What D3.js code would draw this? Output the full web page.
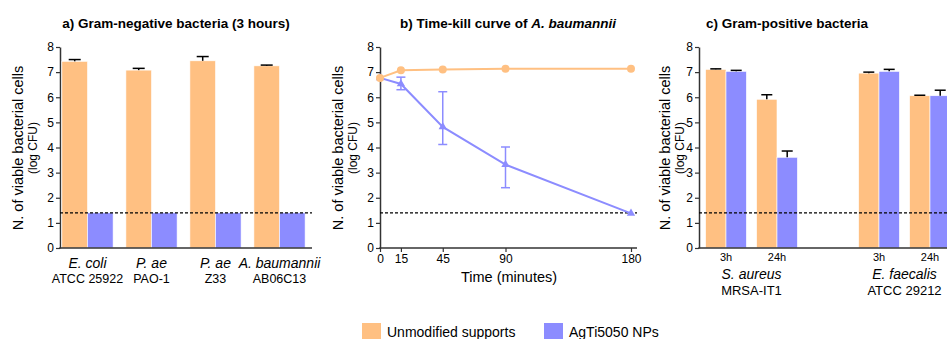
<!DOCTYPE html>
<html>
<head>
<meta charset="utf-8">
<script src="https://cdn.jsdelivr.net/npm/d3@7"></script>
<style>
  body { margin: 0; background: #fff; }
  text { font-family: "Liberation Sans", Arial, sans-serif; fill: #000; }
</style>
</head>
<body>
<svg id="chart" width="947" height="339"></svg>
<script>
// panel a: gram-negative, 3 hours
const gramNegNames = ['E. coli', 'P. ae', 'P. ae', 'A. baumannii'];
const gramNegStrains = ['ATCC 25922', 'PAO-1', 'Z33', 'AB06C13'];
const gramNegUnmod = [7.43, 7.08, 7.45, 7.25];
const gramNegUnmodErr = [0.07, 0.07, 0.17, 0.03];
const gramNegAgTi = [1.4, 1.4, 1.4, 1.4];

// panel b: time-kill curve
const timeMinutes = [0, 15, 45, 90, 180];
const killUnmod = [6.77, 7.07, 7.1, 7.13, 7.13];
const killAgTi = [6.77, 6.53, 4.82, 3.32, 1.38];
const killAgTiLow = [6.77, 6.3, 4.12, 2.4, 1.38];
const killAgTiHigh = [6.77, 6.8, 6.22, 4.02, 1.38];
const timeTicks = [0, 15, 45, 90, 180];

// panel c: gram-positive
const gramPosSlots = ['S. aureus 3h', 'S. aureus 24h', 'gap', 'E. faecalis 3h', 'E. faecalis 24h'];
const gramPosTimes = ['3h', '24h', '', '3h', '24h'];
const gramPosNames = ['S. aureus', 'E. faecalis'];
const gramPosStrains = ['MRSA-IT1', 'ATCC 29212'];
const gramPosUnmod = [7.11, 5.92, null, 6.96, 6.06];
const gramPosUnmodErr = [0.02, 0.18, null, 0.04, 0.02];
const gramPosAgTi = [7.03, 3.61, null, 7.03, 6.06];
const gramPosAgTiErr = [0.04, 0.25, null, 0.08, 0.22];

const yTicks = [0, 1, 2, 3, 4, 5, 6, 7, 8];
const detectionLimit = 1.4;
const legendLabels = ['Unmodified supports', 'AgTi5050 NPs'];

const orange = '#ffc082';
const blue = '#8c8cff';
const axisColor = '#333';

const svg = d3.select('#chart');
const y = d3.scaleLinear().domain([0, 8]).range([248, 47]);

function yAxis(x0, labelX) {
  const g = svg.append('g').attr('transform', 'translate(' + x0 + ',0)')
    .call(d3.axisLeft(y).tickValues(yTicks).tickSize(4).tickSizeOuter(0).tickPadding(2));
  g.select('.domain').attr('stroke', axisColor).attr('stroke-width', 1.5);
  g.selectAll('.tick line').attr('stroke', axisColor).attr('stroke-width', 1.2);
  g.selectAll('.tick text').attr('font-size', 12).attr('fill', '#000')
    .style('font-family', '"Liberation Sans", Arial, sans-serif');
  svg.append('text').attr('transform', 'translate(' + labelX + ',148) rotate(-90)')
    .attr('text-anchor', 'middle').attr('dy', '0.35em').attr('font-size', 14.5)
    .text('N. of viable bacterial cells');
  svg.append('text').attr('transform', 'translate(' + (labelX + 15) + ',148) rotate(-90)')
    .attr('text-anchor', 'middle').attr('dy', '0.35em').attr('font-size', 12)
    .text('(log CFU)');
}

function baseLine(x1, x2) {
  svg.append('line').attr('x1', x1).attr('x2', x2).attr('y1', y(0)).attr('y2', y(0))
    .attr('stroke', axisColor).attr('stroke-width', 1.5);
}

function dashedLimit(x1, x2) {
  svg.append('line').attr('x1', x1).attr('x2', x2)
    .attr('y1', y(detectionLimit)).attr('y2', y(detectionLimit))
    .attr('stroke', '#000').attr('stroke-width', 1.2).attr('stroke-dasharray', '3,2');
}

function upperError(cx, v, e, capW, color) {
  svg.append('line').attr('x1', cx).attr('x2', cx).attr('y1', y(v)).attr('y2', y(v + e))
    .attr('stroke', color).attr('stroke-width', 1.5);
  svg.append('line').attr('x1', cx - capW / 2).attr('x2', cx + capW / 2)
    .attr('y1', y(v + e)).attr('y2', y(v + e)).attr('stroke', color).attr('stroke-width', 1.5);
}

function title(cx, parts) {
  const t = svg.append('text').attr('x', cx).attr('y', 28).attr('text-anchor', 'middle')
    .attr('font-size', 13.5).attr('font-weight', 'bold');
  parts.forEach(function(p) {
    t.append('tspan').attr('font-style', p.italic ? 'italic' : 'normal').text(p.t);
  });
}

// ---------- panel a ----------
const xa = d3.scaleBand().domain(d3.range(gramNegNames.length)).range([55.5, 311.5]).paddingInner(0.2).paddingOuter(0.1);
const bwA = xa.bandwidth() / 2;
yAxis(60, 18);
title(176, [{t: 'a) Gram-negative bacteria (3 hours)'}]);

const ga = svg.append('g');
ga.selectAll('rect.u').data(gramNegUnmod).enter().append('rect')
  .attr('x', (d, i) => xa(i)).attr('y', d => y(d)).attr('width', bwA).attr('height', d => y(0) - y(d))
  .attr('fill', orange).attr('stroke', '#fff').attr('stroke-width', 0.6);
ga.selectAll('rect.b').data(gramNegAgTi).enter().append('rect')
  .attr('x', (d, i) => xa(i) + bwA).attr('y', d => y(d)).attr('width', bwA).attr('height', d => y(0) - y(d))
  .attr('fill', blue).attr('stroke', '#fff').attr('stroke-width', 0.6);
gramNegUnmod.forEach(function(v, i) {
  upperError(xa(i) + bwA / 2, v, gramNegUnmodErr[i], 12, '#000');
});
baseLine(59.25, 312);
dashedLimit(60, 312);
gramNegNames.forEach(function(n, i) {
  const cx = xa(i) + xa.bandwidth() / 2;
  svg.append('text').attr('x', cx).attr('y', 268).attr('text-anchor', 'middle')
    .attr('font-size', 14).attr('font-style', 'italic').text(n);
  svg.append('text').attr('x', cx).attr('y', 283).attr('text-anchor', 'middle')
    .attr('font-size', 12.5).text(gramNegStrains[i]);
});

// ---------- panel b ----------
const xb = d3.scaleLinear().domain([0, 180]).range([380, 631]);
yAxis(380, 338);
title(508, [{t: 'b) Time-kill curve of '}, {t: 'A. baumannii', italic: true}]);
const gxb = svg.append('g').attr('transform', 'translate(0,' + y(0) + ')')
  .call(d3.axisBottom(xb).tickValues(timeTicks).tickSize(4).tickSizeOuter(0).tickPadding(2));
gxb.select('.domain').remove();
gxb.selectAll('.tick line').attr('stroke', axisColor).attr('stroke-width', 1.2);
gxb.selectAll('.tick text').attr('font-size', 12).attr('fill', '#000')
  .style('font-family', '"Liberation Sans", Arial, sans-serif');
baseLine(379.25, 637);
svg.append('text').attr('x', 509).attr('y', 282).attr('text-anchor', 'middle')
  .attr('font-size', 14.5).text('Time (minutes)');
dashedLimit(380, 637);

const line = d3.line().x((d, i) => xb(timeMinutes[i])).y(d => y(d));
svg.append('path').datum(killUnmod).attr('d', line).attr('fill', 'none')
  .attr('stroke', orange).attr('stroke-width', 2);
svg.append('path').datum(killAgTi).attr('d', line).attr('fill', 'none')
  .attr('stroke', blue).attr('stroke-width', 2);
killAgTi.forEach(function(v, i) {
  if (killAgTiHigh[i] - killAgTiLow[i] < 0.01) return;
  const cx = xb(timeMinutes[i]);
  svg.append('line').attr('x1', cx).attr('x2', cx).attr('y1', y(killAgTiLow[i])).attr('y2', y(killAgTiHigh[i]))
    .attr('stroke', blue).attr('stroke-width', 1.5);
  [killAgTiLow[i], killAgTiHigh[i]].forEach(function(e) {
    svg.append('line').attr('x1', cx - 4.5).attr('x2', cx + 4.5).attr('y1', y(e)).attr('y2', y(e))
      .attr('stroke', blue).attr('stroke-width', 1.5);
  });
});
svg.selectAll('path.tri').data(killAgTi).enter().append('path')
  .attr('d', d3.symbol().type(d3.symbolTriangle).size(30))
  .attr('transform', (d, i) => 'translate(' + xb(timeMinutes[i]) + ',' + y(d) + ')')
  .attr('fill', blue);
svg.selectAll('circle.u').data(killUnmod).enter().append('circle')
  .attr('cx', (d, i) => xb(timeMinutes[i])).attr('cy', d => y(d)).attr('r', 4)
  .attr('fill', orange);

// ---------- panel c ----------
const xc = d3.scaleBand().domain(gramPosSlots).range([700.5, 955.5]).paddingInner(0.2).paddingOuter(0.1);
const bwC = xc.bandwidth() / 2;
yAxis(699, 665);
title(787, [{t: 'c) Gram-positive bacteria'}]);
gramPosSlots.forEach(function(s, i) {
  if (gramPosUnmod[i] === null) return;
  const x0 = xc(s);
  svg.append('rect').attr('x', x0).attr('y', y(gramPosUnmod[i])).attr('width', bwC)
    .attr('height', y(0) - y(gramPosUnmod[i])).attr('fill', orange).attr('stroke', '#fff').attr('stroke-width', 0.6);
  svg.append('rect').attr('x', x0 + bwC).attr('y', y(gramPosAgTi[i])).attr('width', bwC)
    .attr('height', y(0) - y(gramPosAgTi[i])).attr('fill', blue).attr('stroke', '#fff').attr('stroke-width', 0.6);
  upperError(x0 + bwC / 2, gramPosUnmod[i], gramPosUnmodErr[i], 11, '#000');
  upperError(x0 + bwC * 1.5, gramPosAgTi[i], gramPosAgTiErr[i], 11, '#000');
  svg.append('text').attr('x', x0 + xc.bandwidth() / 2).attr('y', 261).attr('text-anchor', 'middle')
    .attr('font-size', 11).text(gramPosTimes[i]);
});
baseLine(698.25, 947);
dashedLimit(699, 947);
gramPosNames.forEach(function(n, k) {
  const a = xc(gramPosSlots[k * 3]);
  const b = xc(gramPosSlots[k * 3 + 1]) + xc.bandwidth();
  const cx = (a + b) / 2;
  svg.append('text').attr('x', cx).attr('y', 279).attr('text-anchor', 'middle')
    .attr('font-size', 14).attr('font-style', 'italic').text(n);
  svg.append('text').attr('x', cx).attr('y', 295).attr('text-anchor', 'middle')
    .attr('font-size', 13).text(gramPosStrains[k]);
});

// ---------- legend ----------
const legendX = [362, 544];
const legendColors = [orange, blue];
legendLabels.forEach(function(l, i) {
  svg.append('rect').attr('x', legendX[i]).attr('y', 323).attr('width', 19).attr('height', 17)
    .attr('fill', legendColors[i]);
  svg.append('text').attr('x', legendX[i] + 25).attr('y', 336.5).attr('font-size', 14).text(l);
});
</script>
</body>
</html>
